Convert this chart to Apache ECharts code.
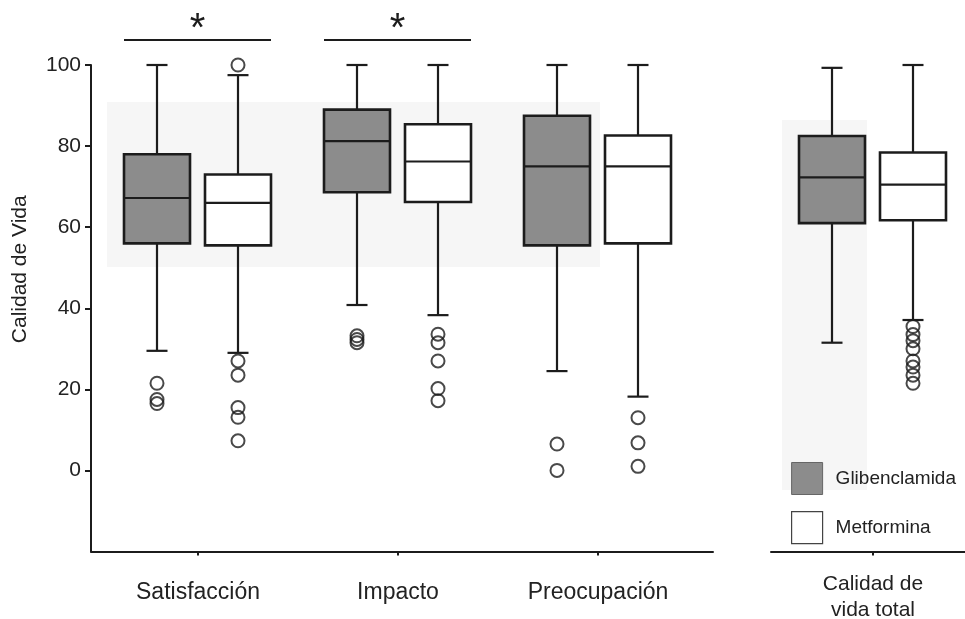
<!DOCTYPE html>
<html>
<head>
<meta charset="utf-8">
<script src="https://cdn.jsdelivr.net/npm/echarts@6/dist/echarts.min.js"></script>
<style>
  html, body { margin: 0; padding: 0; background: #ffffff; }
  #chart { width: 965px; height: 619px; }
</style>
</head>
<body>
<div id="chart"></div>
<script>
// Dimensions of the questionnaire and the overall score
const categories = ['Satisfacción', 'Impacto', 'Preocupación'];
const totalCategory = ['Calidad de\nvida total'];

// Five-number summaries per dimension: [min, Q1, median, Q3, max]
const glibenBoxes = [
  [29.5, 56.0, 67.2, 78.0, 100],
  [40.8, 68.6, 81.2, 89.0, 100],
  [24.5, 55.5, 75.0, 87.5, 100]
];
const metforminaBoxes = [
  [29.0, 55.5, 66.0, 73.0, 97.5],
  [38.3, 66.2, 76.2, 85.4, 100],
  [18.2, 56.0, 75.0, 82.6, 100]
];
const glibenTotal = [[31.5, 61.0, 72.3, 82.5, 99.3]];
const metforminaTotal = [[37.1, 61.7, 70.5, 78.4, 100]];

// Outlying observations per dimension
const glibenOutliers = [
  [21.5, 17.5, 16.5],
  [33.2, 32.3, 31.5],
  [6.5, 0]
];
const metforminaOutliers = [
  [100, 27, 23.5, 15.5, 13.1, 7.3],
  [33.6, 31.5, 27, 20.2, 17.2],
  [13, 6.8, 1]
];
const glibenTotalOutliers = [[]];
const metforminaTotalOutliers = [[35.5, 33.5, 32, 30, 27, 25.5, 23.5, 21.5]];

// Dimensions with a significant difference between treatments
const significant = ['Satisfacción', 'Impacto'];

// Y scale
const yMin = -20, yMax = 100, yStep = 20;
const yTickValues = [0, 20, 40, 60, 80, 100];

// ---- styling ----
const INK = '#1c1c1c';
const GRAY = '#8c8c8c';
const FONT = "'Liberation Sans', Arial, sans-serif";
const BOX_W = 66, CAP_W = 21;
const OFF_G = -41, OFF_M = 40;
const TOP = 65, H = 486.5;

function boxItem(offset, fill) {
  return function (params, api) {
    const idx = api.value(0);
    const cx = api.coord([idx, 0])[0] + offset;
    const y = [1, 2, 3, 4, 5].map(d => api.coord([idx, api.value(d)])[1]);
    const line = { stroke: INK, lineWidth: 2.2 };
    const half = BOX_W / 2, cap = CAP_W / 2;
    return {
      type: 'group',
      children: [
        { type: 'line', shape: { x1: cx, y1: y[0], x2: cx, y2: y[1] }, style: line },
        { type: 'line', shape: { x1: cx, y1: y[3], x2: cx, y2: y[4] }, style: line },
        { type: 'line', shape: { x1: cx - cap, y1: y[0], x2: cx + cap, y2: y[0] }, style: line },
        { type: 'line', shape: { x1: cx - cap, y1: y[4], x2: cx + cap, y2: y[4] }, style: line },
        { type: 'rect', shape: { x: cx - half, y: y[3], width: BOX_W, height: y[1] - y[3] },
          style: { fill: fill, stroke: INK, lineWidth: 2.6 } },
        { type: 'line', shape: { x1: cx - half, y1: y[2], x2: cx + half, y2: y[2] }, style: line }
      ]
    };
  };
}

function boxData(stats) {
  return stats.map((s, i) => [i].concat(s));
}
function outlierData(groups) {
  const out = [];
  groups.forEach((vals, i) => vals.forEach(v => out.push([i, v])));
  return out;
}

function boxSeries(name, stats, axis, offset, fill) {
  return {
    name: name, type: 'custom', xAxisIndex: axis, yAxisIndex: axis,
    renderItem: boxItem(offset, fill),
    encode: { x: 0, y: [1, 2, 3, 4, 5] },
    itemStyle: { color: fill, borderColor: INK, borderWidth: 1 },
    data: boxData(stats), z: 3
  };
}
function outlierSeries(name, groups, axis, offset) {
  return {
    name: name, type: 'scatter', xAxisIndex: axis, yAxisIndex: axis,
    symbol: 'circle', symbolSize: 13, symbolOffset: [offset, 0],
    itemStyle: { color: 'rgba(0,0,0,0)', borderColor: INK, borderWidth: 2 },
    emphasis: { disabled: true },
    data: outlierData(groups), z: 4
  };
}

const hiddenY = { type: 'value', min: yMin, max: yMax, interval: yStep, show: false };
const frameX = {
  type: 'value', min: 0, max: 1,
  axisLine: { show: true, onZero: false, lineStyle: { color: INK, width: 2 } },
  axisTick: { show: false }, axisLabel: { show: false }, splitLine: { show: false }
};
const gridBase = { top: TOP, height: H, outerBoundsMode: 'none', containLabel: false };

const option = {
  animation: false,
  backgroundColor: '#ffffff',
  textStyle: { fontFamily: FONT },
  grid: [
    Object.assign({ left: 91, width: 622 }, gridBase),   // left panel frame
    Object.assign({ left: 98, width: 600 }, gridBase),   // left panel data
    Object.assign({ left: 771, width: 194 }, gridBase),  // right panel frame
    Object.assign({ left: 773, width: 200 }, gridBase)   // right panel data
  ],
  xAxis: [
    Object.assign({ gridIndex: 0 }, frameX),
    {
      gridIndex: 1, type: 'category', data: categories,
      axisLine: { show: false, onZero: false },
      axisTick: { show: true, alignWithLabel: true, length: 4, lineStyle: { color: INK, width: 2 } },
      axisLabel: { fontSize: 23, color: '#222', margin: 30, fontFamily: FONT }
    },
    Object.assign({ gridIndex: 2 }, frameX),
    {
      gridIndex: 3, type: 'category', data: totalCategory,
      axisLine: { show: false, onZero: false },
      axisTick: { show: true, alignWithLabel: true, length: 4, lineStyle: { color: INK, width: 2 } },
      axisLabel: { fontSize: 21, color: '#222', margin: 20, lineHeight: 26, fontFamily: FONT }
    }
  ],
  yAxis: [
    {
      gridIndex: 0, type: 'value', min: yMin, max: yMax, interval: yStep,
      axisLine: { show: true, onZero: false, lineStyle: { color: INK, width: 2 } },
      axisTick: { show: true, length: 6, lineStyle: { color: INK, width: 2 },
        customValues: yTickValues },
      axisLabel: { fontSize: 21, color: '#222', margin: 10, fontFamily: FONT,
        customValues: yTickValues },
      splitLine: { show: false },
      name: 'Calidad de Vida', nameLocation: 'middle', nameGap: 60,
      nameTextStyle: { fontSize: 21, color: '#222', fontFamily: FONT, padding: [0, 0, 0, 78] }
    },
    Object.assign({ gridIndex: 1 }, hiddenY),
    Object.assign({ gridIndex: 2 }, hiddenY),
    Object.assign({ gridIndex: 3 }, hiddenY)
  ],
  legend: {
    orient: 'vertical', left: 786, top: 457,
    itemWidth: 31, itemHeight: 32, itemGap: 16, icon: 'rect',
    selectedMode: false,
    textStyle: { fontSize: 19, color: '#222', fontFamily: FONT, padding: [0, 0, 0, 8] },
    data: [
      { name: 'Glibenclamida', itemStyle: { color: GRAY, borderColor: '#666', borderWidth: 1 } },
      { name: 'Metformina', itemStyle: { color: '#ffffff', borderColor: '#444', borderWidth: 1.2 } }
    ]
  },
  series: [
    boxSeries('Glibenclamida', glibenBoxes, 1, OFF_G, GRAY),
    boxSeries('Metformina', metforminaBoxes, 1, OFF_M, '#ffffff'),
    outlierSeries('Glibenclamida atípicos', glibenOutliers, 1, OFF_G),
    outlierSeries('Metformina atípicos', metforminaOutliers, 1, OFF_M),
    boxSeries('Glibenclamida', glibenTotal, 3, OFF_G, GRAY),
    boxSeries('Metformina', metforminaTotal, 3, OFF_M, '#ffffff'),
    outlierSeries('Glibenclamida total atípicos', glibenTotalOutliers, 3, OFF_G),
    outlierSeries('Metformina total atípicos', metforminaTotalOutliers, 3, OFF_M)
  ]
};

const chart = echarts.init(document.getElementById('chart'), null, { renderer: 'canvas' });
chart.setOption(option);

// Faint panel backgrounds and significance brackets, placed from the axes
const graphics = [
  { type: 'rect', z: -10, silent: true, shape: { x: 107, y: 102, width: 493, height: 165 },
    style: { fill: '#f6f6f6' } },
  { type: 'rect', z: -10, silent: true, shape: { x: 782, y: 120, width: 85, height: 370 },
    style: { fill: '#f6f6f6' } }
];
significant.forEach(name => {
  const i = categories.indexOf(name);
  const p = chart.convertToPixel({ gridIndex: 1 }, [i, yMax]);
  const x1 = p[0] + OFF_G - BOX_W / 2;
  const x2 = p[0] + OFF_M + BOX_W / 2;
  const y = p[1] - 25;
  graphics.push({ type: 'line', shape: { x1: x1, y1: y, x2: x2, y2: y },
    style: { stroke: INK, lineWidth: 2 } });
  graphics.push({ type: 'text', x: (x1 + x2) / 2, y: y - 10,
    style: { text: '*', fontSize: 40, fontFamily: FONT, fill: INK,
      align: 'center', verticalAlign: 'middle' } });
});
chart.setOption({ graphic: graphics });
</script>
</body>
</html>
